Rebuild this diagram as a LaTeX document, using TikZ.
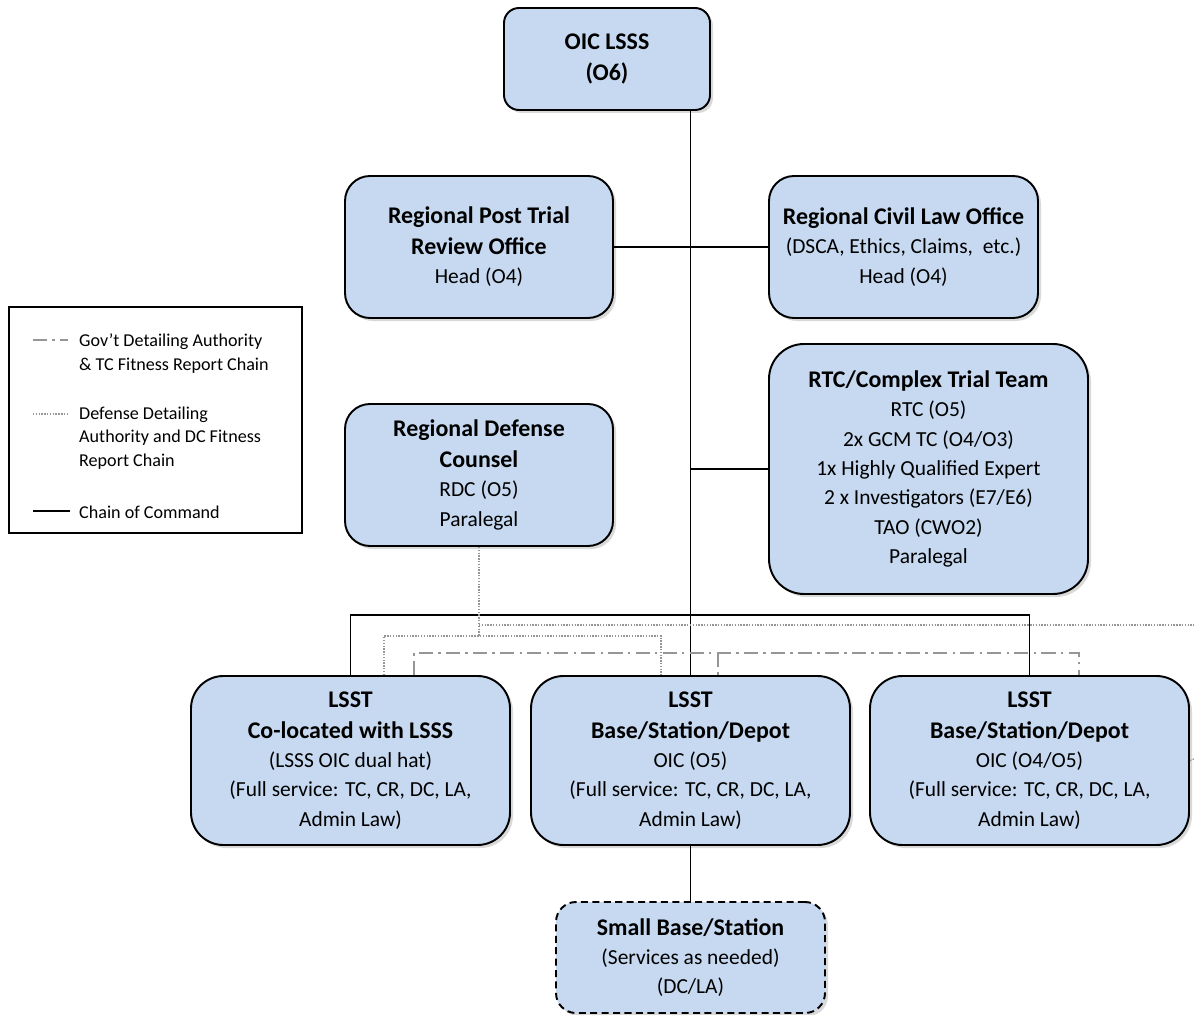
\documentclass[tikz,border=0pt]{standalone}
\usepackage{fontspec}
\setmainfont{Carlito}
\usetikzlibrary{shadows}
\definecolor{boxblue}{RGB}{198,217,240}
\definecolor{linegray}{RGB}{150,150,150}
\newcommand{\hd}[1]{{\bfseries\fontsize{13.6}{17.6}\selectfont #1}}
\begin{document}
\begin{tikzpicture}[
  box/.style={draw,line width=1.1pt,fill=boxblue,rounded corners=0.5cm,align=center,
    font=\fontsize{12.2}{16.7}\selectfont,
    drop shadow={shadow xshift=0.06cm,shadow yshift=-0.06cm,opacity=0.3}},
  cmd/.style={line width=1.1pt},
  gov/.style={linegray,line width=1.1pt,dash pattern=on 8pt off 3pt on 1.4pt off 3pt},
  def/.style={linegray,line width=0.8pt,dash pattern=on 0.8pt off 0.8pt},
  legtext/.style={anchor=west,align=left,font=\fontsize{10.3}{13.4}\selectfont}]
\useasboundingbox (0,0) rectangle (23.88,-20.3);
% top of the chain
\node[box,rounded corners=0.3cm,minimum width=4.12cm,minimum height=2.04cm] (oic) at (12.14,-1.18) {\hd{OIC LSSS}\\[0.8pt]\hd{(O6)}};
\node[box,minimum width=5.36cm,minimum height=2.84cm] (rpt) at (9.58,-4.94) {\hd{Regional Post Trial}\\[0.8pt]\hd{Review Office}\\Head (O4)};
\node[box,minimum width=5.38cm,minimum height=2.84cm] (rcl) at (18.07,-4.94) {\hd{Regional Civil Law Office}\\(DSCA, Ethics, Claims,\ \ etc.)\\Head (O4)};
\node[box,rounded corners=0.7cm,minimum width=6.38cm,minimum height=5cm] (rtc) at (18.57,-9.38) {\hd{RTC/Complex Trial Team}\\RTC (O5)\\2x GCM TC (O4/O3)\\1x Highly Qualified Expert\\2 x Investigators (E7/E6)\\TAO (CWO2)\\Paralegal};
\node[box,minimum width=5.36cm,minimum height=2.84cm] (rdc) at (9.58,-9.5) {\hd{Regional Defense}\\[0.8pt]\hd{Counsel}\\RDC (O5)\\Paralegal};
% legend
\draw[line width=1pt] (0.18,-6.14) rectangle (6.04,-10.66);
\draw[gov] (0.66,-6.8) -- (1.36,-6.8);
\node[legtext] (lgov) at (1.46,-7.07) {Gov’t Detailing Authority\\\& TC Fitness Report Chain};
\draw[def] (0.66,-8.28) -- (1.36,-8.28);
\node[legtext] (ldef) at (1.46,-8.76) {Defense Detailing\\Authority and DC Fitness\\Report Chain};
\draw[cmd] (0.66,-10.22) -- (1.4,-10.22);
\node[legtext] (lcmd) at (1.46,-10.24) {Chain of Command};
% teams
\node[box,rounded corners=0.65cm,minimum width=6.38cm,minimum height=3.38cm] (lsst1) at (7.01,-15.21) {\hd{LSST}\\[0.8pt]\hd{Co-located with LSSS}\\(LSSS OIC dual hat)\\(Full service: TC, CR, DC, LA,\\Admin Law)};
\node[box,rounded corners=0.65cm,minimum width=6.38cm,minimum height=3.38cm] (lsst2) at (13.81,-15.21) {\hd{LSST}\\[0.8pt]\hd{Base/Station/Depot}\\OIC (O5)\\(Full service: TC, CR, DC, LA,\\Admin Law)};
\node[box,rounded corners=0.65cm,minimum width=6.38cm,minimum height=3.38cm] (lsst3) at (20.59,-15.21) {\hd{LSST}\\[0.8pt]\hd{Base/Station/Depot}\\OIC (O4/O5)\\(Full service: TC, CR, DC, LA,\\Admin Law)};
\node[box,dash pattern=on 4pt off 2.5pt,rounded corners=0.4cm,minimum width=5.38cm,minimum height=2.22cm] (small) at (13.81,-19.15) {\hd{Small Base/Station}\\(Services as needed)\\(DC/LA)};
% chain of command
\coordinate (bar) at (0,-12.3);
\draw[cmd] (oic.south -| lsst2.north) -- (lsst2.north);
\draw[cmd] (rpt.east) -- (rcl.west);
\draw[cmd] (rtc.west) -- (rtc.west -| lsst2.north);
\draw[cmd] (lsst1.north) |- (bar -| lsst3.north) -- (lsst3.north);
\draw[cmd] (lsst2.south) -- (small.north);
% defense detailing
\coordinate (defout) at (23.88,-12.5);
\coordinate (d1) at (7.68,-12.72);
\coordinate (d2) at (13.22,-12.72);
\draw[def] (rdc.south) -- (rdc.south |- d1);
\draw[def] (rdc.south |- defout) -- (defout);
\draw[def] (d1 |- lsst1.north) -- (d1) -- (d2) -- (d2 |- lsst2.north);
\draw[def] (lsst3.east) -- (23.88,-15.18);
% gov't detailing
\coordinate (g1) at (8.28,-13.06);
\coordinate (g2) at (14.36,-13.06);
\coordinate (g3) at (21.58,-13.06);
\draw[gov] (g1 |- lsst1.north) -- (g1) -- (g3) -- (g3 |- lsst3.north);
\draw[gov] (g2) -- (g2 |- lsst2.north);
\end{tikzpicture}
\end{document}
